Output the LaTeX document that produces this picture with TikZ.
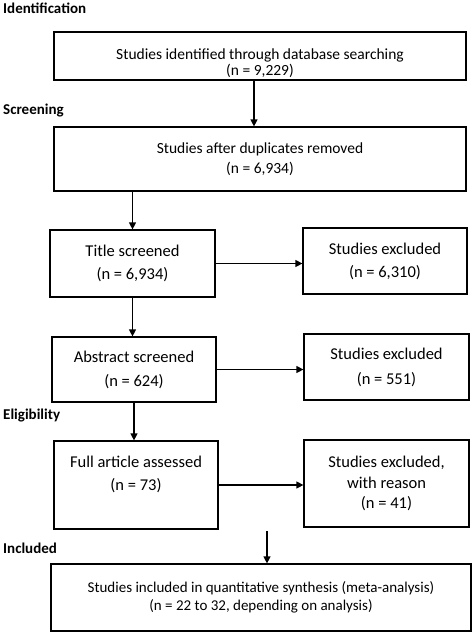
\documentclass[tikz,border=0pt]{standalone}
\usepackage{fontspec}
\setmainfont{Carlito}
\usetikzlibrary{arrows.meta}
\begin{document}
\begin{tikzpicture}[x=1pt,y=-1pt,
  box/.style={draw, line width=1.2pt, inner sep=0pt, align=center},
  bigtxt/.style={font=\fontsize{15.5}{18}\selectfont},
  smalltxt/.style={font=\fontsize{16.5}{23}\selectfont},
  inner/.style={align=center, inner sep=0pt},
  phase/.style={anchor=base west, inner sep=0pt, font=\fontsize{15}{18}\selectfont\bfseries},
  arr/.style={line width=1.2pt, -{Triangle[length=7pt,width=7pt]}}]
\useasboundingbox (0,0) rectangle (472,633);
\fill[white] (0,0) rectangle (472,633);

\node[phase] (l1) at (3,13) {Identification};
\node[phase] (l2) at (3,114) {Screening};
\node[phase] (l3) at (3,419) {Eligibility};
\node[phase] (l4) at (3,553) {Included};

\node[box, minimum width=412pt, minimum height=48pt,
  label={[name=b1t, inner, bigtxt, font=\fontsize{15.5}{16.5}\selectfont, yshift=-7pt]center:{Studies identified through database searching\\(n = 9,229)}}]
  (b1) at (260,56) {};
\node[box, bigtxt, font=\fontsize{15.5}{20}\selectfont, minimum width=412pt, minimum height=64pt] (b2) at (260,159)
  {Studies after duplicates removed\\(n = 6,934)};
\node[box, smalltxt, minimum width=165pt, minimum height=67pt] (title) at (132.5,263.5)
  {Title screened\\(n = 6,934)};
\node[box, smalltxt, minimum width=164pt, minimum height=66pt] (ex1) at (385,261)
  {Studies excluded\\(n = 6,310)};
\node[box, smalltxt, font=\fontsize{16.5}{24}\selectfont, minimum width=164pt, minimum height=65pt] (abs) at (134,369.5)
  {Abstract screened\\(n = 624)};
\node[box, smalltxt, font=\fontsize{16.5}{25}\selectfont, minimum width=165pt, minimum height=66pt] (ex2) at (386.5,367)
  {Studies excluded\\(n = 551)};
\node[box, minimum width=164pt, minimum height=88pt,
  label={[name=fullt, inner, smalltxt, yshift=11pt]center:{Full article assessed\\(n = 73)}}]
  (full) at (136,485) {};
\node[box, smalltxt, font=\fontsize{16.5}{20.5}\selectfont, minimum width=165pt, minimum height=87pt] (ex3) at (386.5,483.5)
  {Studies excluded,\\with reason\\(n = 41)};
\node[box, font=\fontsize{15}{18.5}\selectfont, minimum width=420pt, minimum height=67pt] (fin) at (261,597.5)
  {Studies included in quantitative synthesis (meta-analysis)\\(n = 22 to 32, depending on analysis)};

\draw[arr] ([xshift=-6pt]b1.south) -- ([xshift=-6pt]b1.south |- b2.north);
\draw[arr] (b2.south -| title.north) -- (title.north);
\draw[arr] (title.east) -- (title.east -| ex1.west);
\draw[arr] (title.south) -- (title.south |- abs.north);
\draw[arr] (abs.east) -- (abs.east -| ex2.west);
\draw[arr] (abs.south) -- (abs.south |- full.north);
\draw[arr] (full.east) -- (full.east -| ex3.west);
\coordinate (fa) at (267,531);
\draw[arr] (fa) -- (fa |- fin.north);
\end{tikzpicture}
\end{document}
